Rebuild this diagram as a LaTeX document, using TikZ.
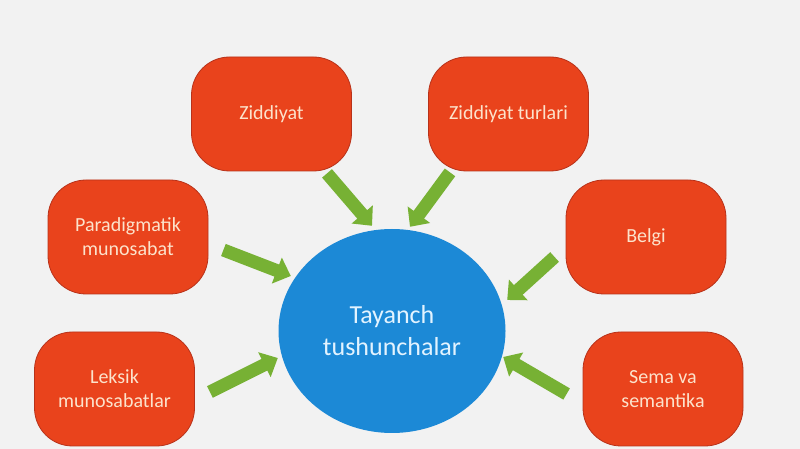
\documentclass[tikz,border=0pt]{standalone}
\usepackage{fontspec}
\setmainfont{Carlito}
\usetikzlibrary{shapes.geometric,arrows.meta}

\definecolor{bgcol}{HTML}{F2F2F2}
\definecolor{boxfill}{HTML}{E9431C}
\definecolor{boxline}{HTML}{B8321A}
\definecolor{boxtext}{HTML}{FCE3CC}
\definecolor{coreblue}{HTML}{1C89D6}
\definecolor{coretext}{HTML}{E2F3FF}
\definecolor{arrowgreen}{HTML}{77B134}

\begin{document}
\begin{tikzpicture}[x=1pt,y=1pt,
    termbox/.style={draw=boxline, line width=0.8pt, fill=boxfill, rounded corners=38pt,
      minimum width=160pt, minimum height=114pt, inner sep=2pt, align=center,
      text=boxtext, font=\fontsize{20}{24}\selectfont},
    core/.style={ellipse, fill=coreblue, minimum width=227pt, minimum height=204pt,
      inner sep=0pt, align=center, text=coretext, font=\fontsize{26}{32}\selectfont},
    garrow/.style={draw=arrowgreen, line width=13pt, -{Triangle[width=27pt,length=15pt]}}]
        \fill[bgcol] (0,0) rectangle (800,449);
        \useasboundingbox (0,0) rectangle (800,449);
        % centre
        \node[core] (tay) at (392,118) {Tayanch\\tushunchalar};
        % terms round it
        \node[termbox] (zid) at (271.5,335) {Ziddiyat};
        \node[termbox] (zidt) at (508.5,335) {Ziddiyat turlari};
        \node[termbox] (par) at (128,212) {Paradigmatik\\munosabat};
        \node[termbox] (bel) at (646,212) {Belgi};
        \node[termbox] (lek) at (114.5,60) {Leksik\\munosabatlar};
        \node[termbox] (sem) at (663,60) {Sema va\\semantika};
        % arrows to the centre
        \draw[garrow] ([shift={(55.5pt,-2pt)}]zid.south) -- ([shift={(-20pt,3pt)}]tay.north);
        \draw[garrow] ([shift={(-58.5pt,-1pt)}]zidt.south) -- ([shift={(18pt,2pt)}]tay.north);
        \draw[garrow] ([shift={(15pt,-13pt)}]par.east) -- ([shift={(12.5pt,55pt)}]tay.west);
        \draw[garrow] ([shift={(15pt,-3pt)}]lek.east) -- ([shift={(-0.5pt,-27pt)}]tay.west);
        \draw[garrow] ([shift={(-11pt,-20pt)}]bel.west) -- ([shift={(1.5pt,31pt)}]tay.east);
        \draw[garrow] ([shift={(-16pt,-5pt)}]sem.west) -- ([shift={(-2.5pt,-26pt)}]tay.east);
\end{tikzpicture}
\end{document}
